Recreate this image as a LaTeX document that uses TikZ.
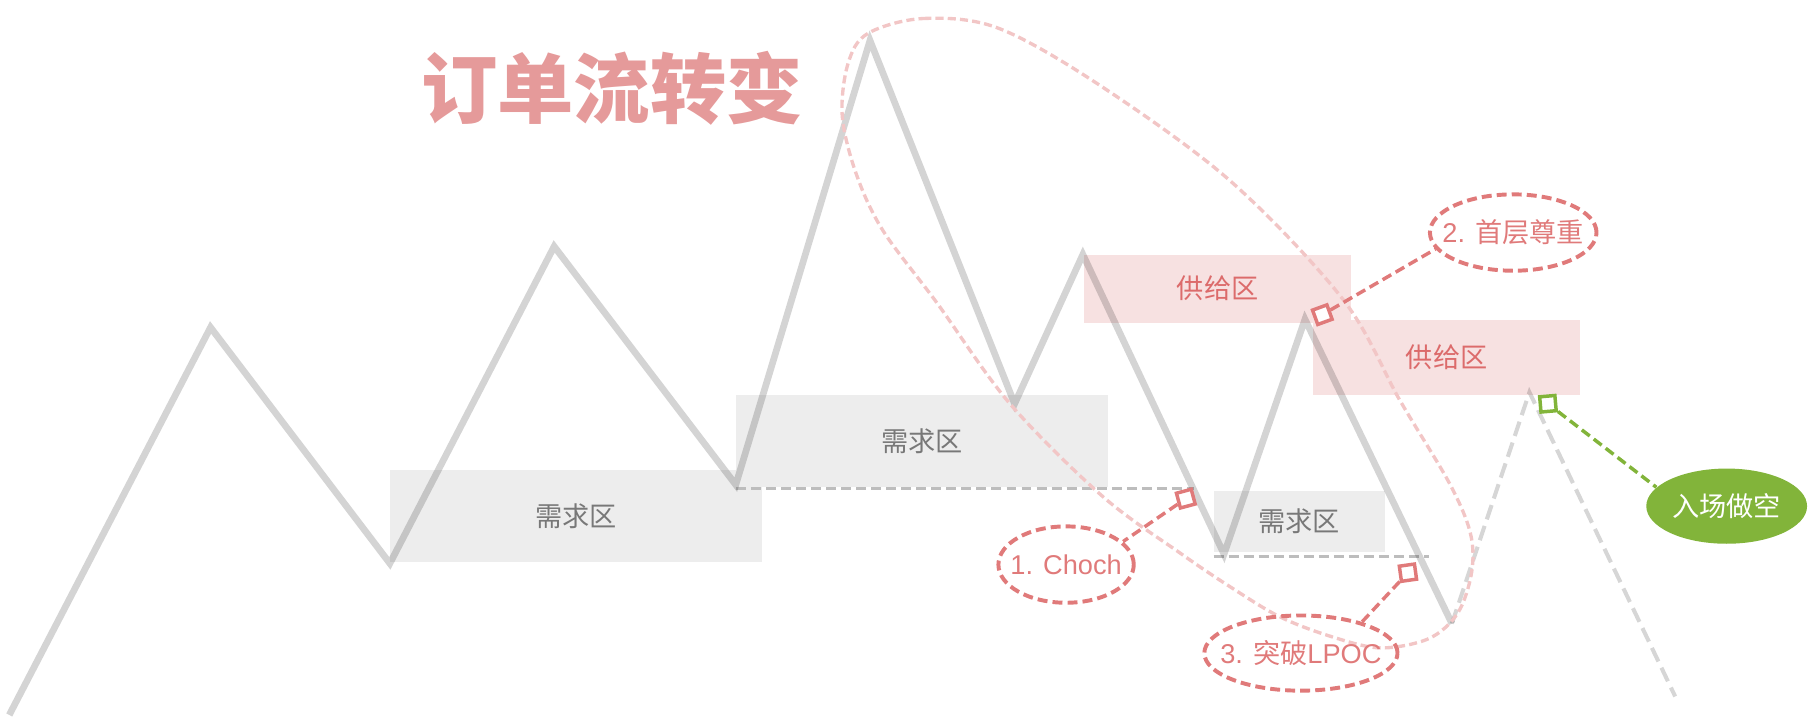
\documentclass[tikz,border=0pt]{standalone}
\usepackage{fontspec}
\setmainfont{Liberation Sans}
\newfontfamily\cjk{Noto Sans CJK SC}
\usetikzlibrary{shapes.geometric}
\definecolor{pinkline}{HTML}{E07A7A}
\definecolor{pinklight}{HTML}{F2C6C6}
\definecolor{supplyfill}{HTML}{F7E1E1}
\definecolor{supplytext}{HTML}{DC6B6B}
\definecolor{demandfill}{HTML}{EDEDED}
\definecolor{demandtext}{HTML}{787878}
\definecolor{titlecol}{HTML}{E59A9A}
\definecolor{greenc}{HTML}{82B43A}
\definecolor{dashgray}{HTML}{BDBDBD}
\newcommand{\zerowd}[1]{\makebox[0pt]{#1}}
\begin{document}
\begin{tikzpicture}[x=0.5pt,y=-0.5pt,
  zone/.style={inner sep=0pt, font=\cjk\fontsize{11.75}{14}\selectfont},
  demand/.style={zone, fill=demandfill, text=demandtext},
  supply/.style={zone, fill=supplyfill, text=supplytext},
  zig/.style={draw=black, draw opacity=0.17, line width=2.9pt, line join=miter},
  zigdash/.style={draw=black, draw opacity=0.16, line width=1.75pt, dash pattern=on 6.5pt off 3pt},
  levelline/.style={draw=dashgray, line width=1.45pt, dash pattern=on 4.3pt off 2.2pt},
  bigloop/.style={draw=pinklight, line width=1.45pt, dash pattern=on 3.5pt off 1.8pt},
  callout/.style={ellipse, draw=pinkline, line width=1.7pt, dash pattern=on 4.3pt off 2.2pt, inner sep=0pt, text=pinkline, font=\fontsize{11.75}{14}\selectfont},
  calloutline/.style={draw=pinkline, line width=1.5pt, dash pattern=on 4.3pt off 2.2pt},
  marker/.style={rectangle, draw=pinkline, line width=1.5pt, fill=white, minimum size=6.6pt, inner sep=0pt},
  greenmarker/.style={marker, draw=greenc},
  entry/.style={ellipse, fill=greenc, inner sep=0pt, text=white, font=\cjk\fontsize{11.75}{14}\selectfont},
  entryline/.style={draw=greenc, line width=1.5pt, dash pattern=on 4.3pt off 2.2pt}
]
\useasboundingbox (0,0) rectangle (1568,622.36);

% zones
\node[demand, minimum width=161pt, minimum height=40pt] (d1) at (498,446) {需求区};
\node[demand, minimum width=161pt, minimum height=40pt] (d2) at (797,381) {需求区};
\node[demand, minimum width=74pt, minimum height=26.5pt] (d3) at (1123,450.5) {需求区};
\node[supply, minimum width=115.5pt, minimum height=29.5pt] (s1) at (1052.5,249.5) {供给区};
\node[supply, minimum width=115.5pt, minimum height=32pt] (s2) at (1250.5,309) {供给区};

% price path points
\coordinate (p0) at (8,618);
\coordinate (p1) at (182,283);
\coordinate (p2) at (337,487);
\coordinate (p3) at (479,213);
\coordinate (p4) at (636,419);
\coordinate (p5) at (752,35);
\coordinate (p6) at (877,349);
\coordinate (p7) at (936,220);
\coordinate (p8) at (1058,479);
\coordinate (p9) at (1128,276);
\coordinate (p10) at (1255,539);
\coordinate (p11) at (1322,339);
\coordinate (p12) at (1448,602);
\coordinate (l1) at (1032,422);
\coordinate (l2a) at (1049,481);
\coordinate (l2b) at (1235,481);

% level lines
\draw[levelline] (p4 |- l1) -- (l1);
\draw[levelline] (l2a) -- (l2b);

% price path
\draw[zig] (p0) -- (p1) -- (p2) -- (p3) -- (p4) -- (p5) -- (p6) -- (p7) -- (p8) -- (p9) -- (p10);
\draw[zigdash] (p10) -- (p11) -- (p12);

% big loop
\draw[bigloop] plot[smooth cycle, tension=0.55] coordinates {
 (750,29) (798,16) (862,24) (948,72) (1063,156) (1161,259) (1210,346) (1253,418)
 (1271,461) (1272,495) (1260,530) (1235,552) (1193,560) (1150,550) (1106,533)
 (1063,507) (1020,478) (953,429) (873,349) (810,262) (763,199) (740,150) (728,100) (733,55)};

% callouts
\node[marker, rotate=15] (m1) at (1025,431) {};
\node[marker, rotate=20] (m2) at (1143,272) {};
\node[marker, rotate=8] (m3) at (1217,495) {};
\node[greenmarker, rotate=5] (m4) at (1338,349) {};

\node[callout, minimum width=58.5pt, minimum height=33pt] (c1) at (921.5,488) {\zerowd{1. Choch}};
\node[callout, minimum width=72pt, minimum height=33pt] (c2) at (1308,201) {\zerowd{2. {\cjk 首层尊重}}};
\node[callout, minimum width=83.5pt, minimum height=32.5pt] (c3) at (1124.5,564.5) {\zerowd{3. {\cjk 突破}LPOC}};
\node[entry, minimum width=69.5pt, minimum height=32.5pt] (go) at (1492.5,437.5) {\zerowd{入场做空}};

\draw[calloutline] (m1) -- (c1.22);
\draw[calloutline] (m2) -- (c2.192);
\draw[calloutline] (m3) -- (c3.27);
\draw[entryline] (m4) -- (go.165);

% title
\node[inner sep=0pt, text=titlecol, font=\cjk\bfseries\fontsize{33}{36}\selectfont] (title) at (529,76) {订单流转变};
\end{tikzpicture}
\end{document}
